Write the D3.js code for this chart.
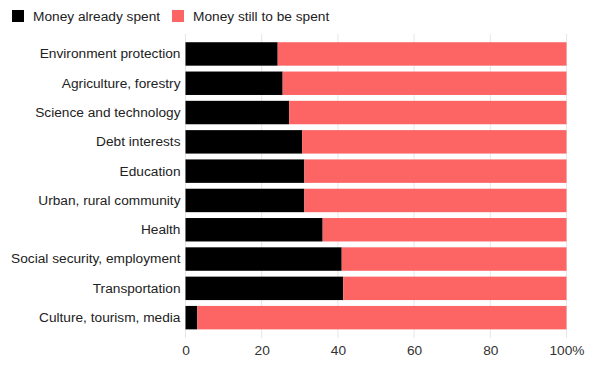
<!DOCTYPE html>
<html><head><meta charset="utf-8">
<script src="https://cdn.jsdelivr.net/npm/d3@7"></script>
<style>body{margin:0;background:#fff;}svg{display:block;font-family:"Liberation Sans",Arial,sans-serif;}</style>
</head><body>
<script>
const categories = ["Environment protection","Agriculture, forestry","Science and technology","Debt interests","Education","Urban, rural community","Health","Social security, employment","Transportation","Culture, tourism, media"];
const spent = [24.2,25.5,27.2,30.6,31.2,31.2,36.0,41.0,41.4,3.1];
const remaining = spent.map(v => 100 - v);
const seriesNames = ["Money already spent","Money still to be spent"];
const colors = ["#000000","#fd6464"];
const tickValues = [0,20,40,60,80,100];

const W = 601, H = 387;
const FS = 13.7;
const svg = d3.select("body").append("svg").attr("width",W).attr("height",H);
const x = d3.scaleLinear().domain([0,100]).range([185.5,566.5]);
const y = d3.scaleBand().domain(categories).range([39.3,332.3]).paddingInner(0.2).paddingOuter(0.1);

// grid
svg.append("g").selectAll("line").data(tickValues).join("line")
  .attr("x1",d=>x(d)).attr("x2",d=>x(d)).attr("y1",34).attr("y2",338)
  .attr("stroke","#e6e6e6").attr("stroke-width",1);

const rows = categories.map((c,i)=>({c, s:spent[i], r:remaining[i]}));
const g = svg.append("g");
g.selectAll("rect.s").data(rows).join("rect").attr("class","s")
  .attr("x",x(0)).attr("y",d=>y(d.c)).attr("width",d=>x(d.s)-x(0)).attr("height",y.bandwidth())
  .attr("fill",colors[0]);
g.selectAll("rect.r").data(rows).join("rect").attr("class","r")
  .attr("x",d=>x(d.s)).attr("y",d=>y(d.c)).attr("width",d=>x(d.s+d.r)-x(d.s)).attr("height",y.bandwidth())
  .attr("fill",colors[1]);

// y labels
svg.append("g").attr("transform",`translate(${x(0)},0)`)
  .call(d3.axisLeft(y).tickSize(0).tickPadding(5))
  .call(a=>a.select(".domain").remove())
  .call(a=>a.selectAll("text").attr("font-size",FS).attr("fill","#222").attr("font-family","'Liberation Sans',Arial,sans-serif"));

// x axis
svg.append("g").attr("transform","translate(0,338)")
  .call(d3.axisBottom(x).tickValues(tickValues).tickSize(0).tickPadding(7).tickFormat(d=>d===100?"100%":d))
  .call(a=>a.select(".domain").remove())
  .call(a=>a.selectAll("text").attr("font-size",FS).attr("fill","#333").attr("font-family","'Liberation Sans',Arial,sans-serif"));

// legend
const leg = svg.append("g");
const legX = [12,172];
seriesNames.forEach((n,i)=>{
  leg.append("rect").attr("x",legX[i]).attr("y",10).attr("width",12).attr("height",12).attr("fill",colors[i]);
  leg.append("text").attr("x",legX[i]+21).attr("y",21).attr("font-size",FS).attr("fill","#222").text(n);
});
</script>
</body></html>
